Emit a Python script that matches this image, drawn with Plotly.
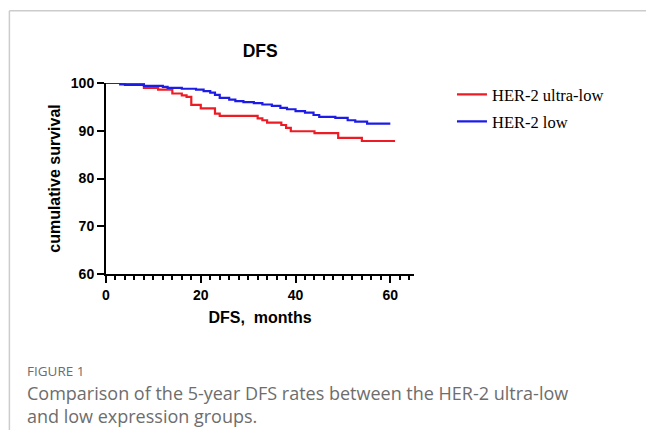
import plotly.graph_objects as go

# ---- data ----
ultra_low_months = [0, 8, 11, 14, 16, 17, 18, 20, 23, 24, 32, 33, 34, 37, 38, 39, 44, 49, 54, 61]
ultra_low_surv = [100, 99.0, 98.6, 97.8, 97.4, 97.1, 95.4, 94.7, 93.6, 93.1, 92.6, 92.2, 91.7,
                  91.2, 90.6, 89.9, 89.5, 88.5, 87.85, 87.85]
low_months = [0, 3, 4, 8, 12, 13, 16, 19, 20.6, 22, 23, 24, 26, 27.3, 29, 31.2, 33, 35, 36.8,
              38.2, 40, 42, 43.8, 45, 48.4, 51, 52.6, 55.1, 60]
low_surv = [100, 99.7, 99.6, 99.4, 99.2, 99.0, 98.8, 98.6, 98.3, 98.0, 97.5, 96.9, 96.5, 96.2,
            96.0, 95.8, 95.5, 95.2, 94.8, 94.5, 94.1, 93.8, 93.3, 92.9, 92.7, 92.2, 91.9, 91.5, 91.5]
series_names = ["HER-2 ultra-low", "HER-2 low"]
x_ticks = [0, 20, 40, 60]
y_ticks = [60, 70, 80, 90, 100]

W, H = 646, 430
X0, X1, Y0, Y1 = 105.7, 414.0, 83.3, 274.3


def px(x):
    return (x - X0) / (X1 - X0)


def py(y):
    return (Y1 - y) / (Y1 - Y0)


fig = go.Figure()
fig.add_trace(go.Scatter(x=ultra_low_months, y=ultra_low_surv, mode="lines", name=series_names[0],
                         line=dict(color="rgb(237,28,36)", width=2.2, shape="hv"), cliponaxis=False,
                         legend="legend"))
fig.add_trace(go.Scatter(x=low_months, y=low_surv, mode="lines", name=series_names[1],
                         line=dict(color="rgb(28,28,230)", width=2.2, shape="hv"), cliponaxis=False,
                         legend="legend2"))

axis_font = dict(family="Liberation Sans, Arial", size=14, color="black", weight="bold")
leg_font = dict(family="Liberation Serif, Times New Roman", size=16.5, color="black")

fig.update_layout(
    width=W, height=H,
    margin=dict(l=X0, r=W - X1, t=Y0, b=H - Y1),
    paper_bgcolor="white", plot_bgcolor="white",
    showlegend=True,
    legend=dict(x=px(452), y=py(95), xanchor="left", yanchor="middle", font=leg_font,
                bgcolor="rgba(0,0,0,0)", itemwidth=30),
    legend2=dict(x=px(452), y=py(122), xanchor="left", yanchor="middle", font=leg_font,
                 bgcolor="rgba(0,0,0,0)", itemwidth=30),
    xaxis=dict(range=[0, 65], tickvals=x_ticks, showgrid=False, zeroline=False,
               showline=True, linecolor="black", linewidth=2,
               ticks="outside", ticklen=7, tickwidth=2, tickcolor="black",
               minor=dict(dtick=2, ticks="outside", ticklen=4, tickwidth=1.5, tickcolor="black"),
               tickfont=axis_font,
               title=dict(text="DFS,\u00a0 months", font=dict(family="Liberation Sans, Arial", size=16,
                                                         color="black", weight="bold"), standoff=10)),
    yaxis=dict(range=[60, 100], tickvals=y_ticks, showgrid=False, zeroline=False,
               showline=True, linecolor="black", linewidth=2,
               ticks="outside", ticklen=7, tickwidth=2, tickcolor="black",
               tickfont=axis_font,
               title=dict(text="cumulative survival", font=dict(family="Liberation Sans, Arial", size=16,
                                                              color="black", weight="bold"), standoff=6)),
    title=dict(text="DFS", x=px(260), xref="paper", xanchor="center", y=1 - 51 / H, yanchor="middle",
               font=dict(family="Liberation Sans, Arial", size=17.5, color="black", weight="bold")),
)

# page frame lines
fig.add_shape(type="line", xref="paper", yref="paper", x0=px(9), x1=px(9), y0=py(11), y1=py(432),
              line=dict(color="#cccccc", width=1.5))
fig.add_shape(type="line", xref="paper", yref="paper", x0=px(9), x1=px(650), y0=py(11), y1=py(11),
              line=dict(color="#cccccc", width=1.5))

cap_color = "#6d6d6d"
fig.add_annotation(text="FIGURE 1", xref="paper", yref="paper", x=px(25.5), y=py(371),
                   xanchor="left", yanchor="middle", showarrow=False, borderpad=0,
                   font=dict(family="Open Sans", size=13.5, color=cap_color))
fig.add_annotation(text="Comparison of the 5-year DFS rates between the HER-2 ultra-low<br>"
                        "and low expression groups.",
                   xref="paper", yref="paper", x=px(25.5), y=py(405), xanchor="left", yanchor="middle",
                   align="left", showarrow=False, borderpad=0,
                   font=dict(family="Open Sans", size=18, color=cap_color))

fig.write_html("out.html", config={"displayModeBar": False},
               post_script="document.body.style.margin='0';document.body.style.padding='0';")
